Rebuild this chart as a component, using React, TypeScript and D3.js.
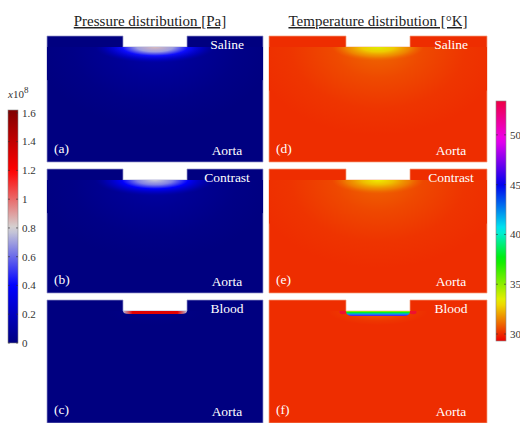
import React from "react";
import * as d3 from "d3";

// ---------- data ----------
const materials = ["Saline", "Contrast", "Blood"];
const pressureLetters = ["(a)", "(b)", "(c)"];
const temperatureLetters = ["(d)", "(e)", "(f)"];
const regionLabel = "Aorta";
const glowKind = ["diffuse", "diffuse", "film"];
const pressureBase = [0, 0, 0]; // x10^8 Pa
const pressurePeak = [0.85, 0.78, 1.3]; // x10^8 Pa
const temperatureBase = [30.05, 30.05, 30.05];
const temperaturePeak = [33.6, 33.3, 47];
const pressureTicks = [0, 0.2, 0.4, 0.6, 0.8, 1, 1.2, 1.4, 1.6];
const pressureRange = [0, 1.62];
const temperatureTicks = [30, 35, 40, 45, 50];
const temperatureRange = [29.3, 53.4];
const titles = ["Pressure distribution [Pa]", "Temperature distribution [°K]"];

// ---------- colour scales ----------
const pColor = d3
  .scaleLinear<string>()
  .domain([0, 0.4, 0.8, 1.2, 1.62])
  .range(["#000080", "#0000ff", "#d4d4d4", "#ff0000", "#800000"])
  .clamp(true);
const tColor = d3
  .scaleLinear<string>()
  .domain([29.3, 33.3, 37.5, 40.5, 45, 49.5, 53.4])
  .range(["#ee0000", "#eeee00", "#00ee00", "#00eeee", "#0000ee", "#ee00ee", "#ee0044"])
  .clamp(true);

// ---------- layout ----------
const W = 520;
const H = 423;
const cols = [
  { x0: 47, w: 216 },
  { x0: 269, w: 218 },
];
const rowTop = [36, 169, 300];
const rowBottom = [162, 293, 423];
const notchW = 64;
const notchD = 11;
const serif = "'Liberation Serif', 'Times New Roman', serif";

type Stop = { o: number; f: number; a: number };
const broadStopsP: Stop[] = [
  { o: 0, f: 0.16, a: 1 },
  { o: 0.35, f: 0.08, a: 1 },
  { o: 0.7, f: 0.025, a: 1 },
  { o: 1, f: 0, a: 1 },
];
const broadStopsT: Stop[] = [
  { o: 0, f: 0.3, a: 1 },
  { o: 0.35, f: 0.14, a: 1 },
  { o: 0.7, f: 0.04, a: 1 },
  { o: 1, f: 0, a: 1 },
];
const coreStopsP: Stop[] = [
  { o: 0, f: 1, a: 1 },
  { o: 0.3, f: 0.82, a: 1 },
  { o: 0.55, f: 0.5, a: 1 },
  { o: 0.8, f: 0.3, a: 0.6 },
  { o: 1, f: 0.16, a: 0 },
];
const coreStopsT: Stop[] = [
  { o: 0, f: 1, a: 1 },
  { o: 0.35, f: 0.75, a: 1 },
  { o: 0.7, f: 0.5, a: 0.7 },
  { o: 1, f: 0.3, a: 0 },
];

function Panel({ col, row, kind }: { col: number; row: number; kind: "p" | "t" }) {
  const { x0, w } = cols[col];
  const x1 = x0 + w;
  const top = rowTop[row];
  const bottom = rowBottom[row];
  const cx = x0 + w / 2;
  const nl = cx - notchW / 2;
  const nr = cx + notchW / 2;
  const nb = top + notchD;
  const color = kind === "p" ? pColor : tColor;
  const base = kind === "p" ? pressureBase[row] : temperatureBase[row];
  const peak = kind === "p" ? pressurePeak[row] : temperaturePeak[row];
  const val = (f: number) => base + (peak - base) * f;
  const id = `${kind}${row}`;
  const shape = `M${x0},${top}H${nl}V${nb}H${nr}V${top}H${x1}V${bottom}H${x0}Z`;
  const label = kind === "p" ? pressureLetters[row] : temperatureLetters[row];
  const film = glowKind[row] === "film";
  const broadR = kind === "p" ? { rx: 118, ry: 80 } : { rx: 125, ry: 88 };
  const coreR = kind === "p" ? { rx: 60, ry: 16 } : { rx: 46, ry: 14 };
  const broadStops = kind === "p" ? broadStopsP : broadStopsT;
  const coreStops = kind === "p" ? coreStopsP : coreStopsT;
  const fd = kind === "t" ? 5 : 3;

  return (
    <g>
      <defs>
        <clipPath id={`clip-${id}`}>
          <rect x={x0} y={nb} width={w} height={bottom - nb} />
        </clipPath>
        <radialGradient id={`broad-${id}`}>
          {broadStops.map((s, i) => (
            <stop key={i} offset={s.o} stopColor={color(val(s.f))} stopOpacity={s.a} />
          ))}
        </radialGradient>
        <radialGradient id={`core-${id}`}>
          {coreStops.map((s, i) => (
            <stop key={i} offset={s.o} stopColor={color(val(s.f))} stopOpacity={s.a} />
          ))}
        </radialGradient>
        {film && kind === "p" && (
          <linearGradient id={`film-${id}`} x1="0" x2="1" y1="0" y2="0">
            <stop offset={0} stopColor={color(0.75)} />
            <stop offset={0.15} stopColor={color(peak)} />
            <stop offset={0.85} stopColor={color(peak)} />
            <stop offset={1} stopColor={color(0.75)} />
          </linearGradient>
        )}
        {film && kind === "t" && (
          <linearGradient id={`film-${id}`} x1="0" x2="0" y1="0" y2="1">
            <stop offset={0} stopColor={color(34)} />
            <stop offset={0.3} stopColor={color(38)} />
            <stop offset={0.6} stopColor={color(42)} />
            <stop offset={1} stopColor={color(peak)} />
          </linearGradient>
        )}
      </defs>
      <path d={shape} fill={color(base)} stroke={kind === "p" ? "#9a9acc" : "#f5a080"} strokeWidth={0.7} />
      <g clipPath={`url(#clip-${id})`}>
        {!film && (
          <>
            <ellipse cx={cx} cy={nb} rx={broadR.rx} ry={broadR.ry} fill={`url(#broad-${id})`} />
            <ellipse cx={cx} cy={nb} rx={coreR.rx} ry={coreR.ry} fill={`url(#core-${id})`} />
          </>
        )}
        {film && (
          <>
            <ellipse cx={cx} cy={nb} rx={50} ry={14} fill={`url(#broad-${id})`} opacity={0.25} />
            {kind === "t" && (
              <>
                <ellipse cx={nl - 3} cy={nb + 1} rx={3.5} ry={2.2} fill={color(53.4)} opacity={0.7} />
                <ellipse cx={nr + 3} cy={nb + 1} rx={3.5} ry={2.2} fill={color(53.4)} opacity={0.7} />
              </>
            )}
            <path
              d={`M${nl},${nb}H${nr}Q${nr},${nb + fd} ${nr - 6},${nb + fd}H${nl + 6}Q${nl},${nb + fd} ${nl},${nb}Z`}
              fill={`url(#film-${id})`}
            />
          </>
        )}
      </g>
      <g fill="#ffffff" fontFamily={serif} fontSize={13.5}>
        <text x={x1 - 36} y={top + 13} textAnchor="middle">
          {materials[row]}
        </text>
        <text x={x1 - 36} y={bottom - 7} textAnchor="middle">
          {regionLabel}
        </text>
        <text x={x0 + 7} y={bottom - 9}>
          {label}
        </text>
      </g>
    </g>
  );
}

function ColorBar({ kind }: { kind: "p" | "t" }) {
  const isP = kind === "p";
  const x = isP ? 8 : 496;
  const bw = 10;
  const y0 = isP ? 110 : 101;
  const y1 = isP ? 343 : 341;
  const range = isP ? pressureRange : temperatureRange;
  const ticks = isP ? pressureTicks : temperatureTicks;
  const color = isP ? pColor : tColor;
  const y = d3.scaleLinear().domain(range).range([y1, y0]);
  const samples = d3.range(0, 41).map((i) => range[0] + ((range[1] - range[0]) * i) / 40);
  const id = `cb-${kind}`;
  return (
    <g>
      <defs>
        <linearGradient id={id} x1="0" x2="0" y1="1" y2="0">
          {samples.map((v, i) => (
            <stop key={i} offset={i / 40} stopColor={color(v)} />
          ))}
        </linearGradient>
      </defs>
      <rect x={x} y={y0} width={bw} height={y1 - y0} fill={`url(#${id})`} stroke="#888" strokeWidth={0.6} />
      {ticks.map((t) => (
        <g key={t}>
          <line x1={x} x2={x + 2} y1={y(t)} y2={y(t)} stroke="#333" strokeWidth={0.6} />
          <line x1={x + bw - 2} x2={x + bw} y1={y(t)} y2={y(t)} stroke="#333" strokeWidth={0.6} />
          <text
            x={x + bw + 4}
            y={y(t)}
            dy="0.35em"
            fontFamily={serif}
            fontSize={11}
            fill="#333"
          >
            {d3.format("~g")(t)}
          </text>
        </g>
      ))}
    </g>
  );
}

export default function App() {
  return (
    <svg
      width={W}
      height={H}
      viewBox={`0 0 ${W} ${H}`}
      style={{ position: "absolute", left: 0, top: 0, display: "block", background: "#ffffff" }}
    >
      <text
        x={150}
        y={26}
        textAnchor="middle"
        fontFamily={serif}
        fontSize={15}
        fill="#222"
        style={{ textDecoration: "underline" }}
      >
        {titles[0]}
      </text>
      <text
        x={378}
        y={26}
        textAnchor="middle"
        fontFamily={serif}
        fontSize={15}
        fill="#222"
        style={{ textDecoration: "underline" }}
      >
        {titles[1]}
      </text>
      {materials.map((m, r) => (
        <g key={m}>
          <Panel col={0} row={r} kind="p" />
          <Panel col={1} row={r} kind="t" />
        </g>
      ))}
      <text x={8} y={98} fontFamily={serif} fontSize={11} fill="#333">
        <tspan fontStyle="italic">x</tspan>10
        <tspan dy={-5} fontSize={9}>
          8
        </tspan>
      </text>
      <ColorBar kind="p" />
      <ColorBar kind="t" />
    </svg>
  );
}
